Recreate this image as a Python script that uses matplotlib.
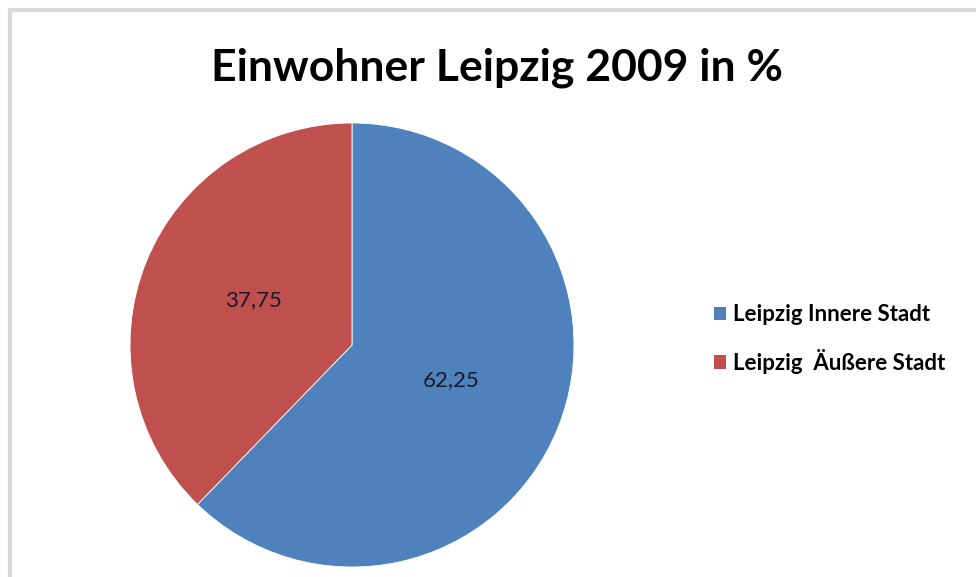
import matplotlib
matplotlib.use("Agg")
import matplotlib.pyplot as plt
from matplotlib.patches import Rectangle
import numpy as np

title = "Einwohner Leipzig 2009 in %"
categories = ["Leipzig Innere Stadt", "Leipzig  Äußere Stadt"]
values = [62.25, 37.75]
value_labels = ["62,25", "37,75"]
colors = ["#4F81BD", "#C0504D"]

W, H = 976, 577
fig = plt.figure(figsize=(W / 100, H / 100), dpi=100)
fig.patch.set_facecolor("white")

# chart border (extends past right/bottom edges like the reference)
fig.patches.append(Rectangle((10 / W, -0.05), 1.2, (H - 10) / H + 0.05,
                             transform=fig.transFigure, fill=False,
                             edgecolor="#d9d9d9", linewidth=3, zorder=0))

cx, cy, r = 352, 345, 222
ax = fig.add_axes([(cx - r) / W, (H - cy - r) / H, 2 * r / W, 2 * r / H])
wedges, _ = ax.pie(values, colors=colors, startangle=90, counterclock=False,
                   radius=1, wedgeprops=dict(edgecolor="white", linewidth=0.6))
ax.set_xlim(-1, 1)
ax.set_ylim(-1, 1)
ax.set_aspect("equal")
ax.axis("off")

# value labels
for w, lab in zip(wedges, value_labels):
    mid = np.deg2rad((w.theta1 + w.theta2) / 2)
    ax.text(0.48 * np.cos(mid), 0.48 * np.sin(mid) + 0.02, lab, ha="center", va="center",
            fontsize=16, family="Lato", color="#1a1a2a")

fig.text(497 / W, 1 - 68 / H, title, ha="center", va="center",
         fontsize=32, fontweight="bold", family="Lato", color="black")

leg = fig.legend(wedges, categories, loc="center left",
                 bbox_to_anchor=(694 / W, 1 - 339 / H), frameon=False,
                 prop=dict(family="Lato", size=16, weight="bold"),
                 handlelength=0.55, handleheight=0.55, handletextpad=0.3,
                 labelspacing=1.05)
for h in leg.legend_handles:
    h.set_edgecolor("none")

fig.savefig("out.png", dpi=100)
